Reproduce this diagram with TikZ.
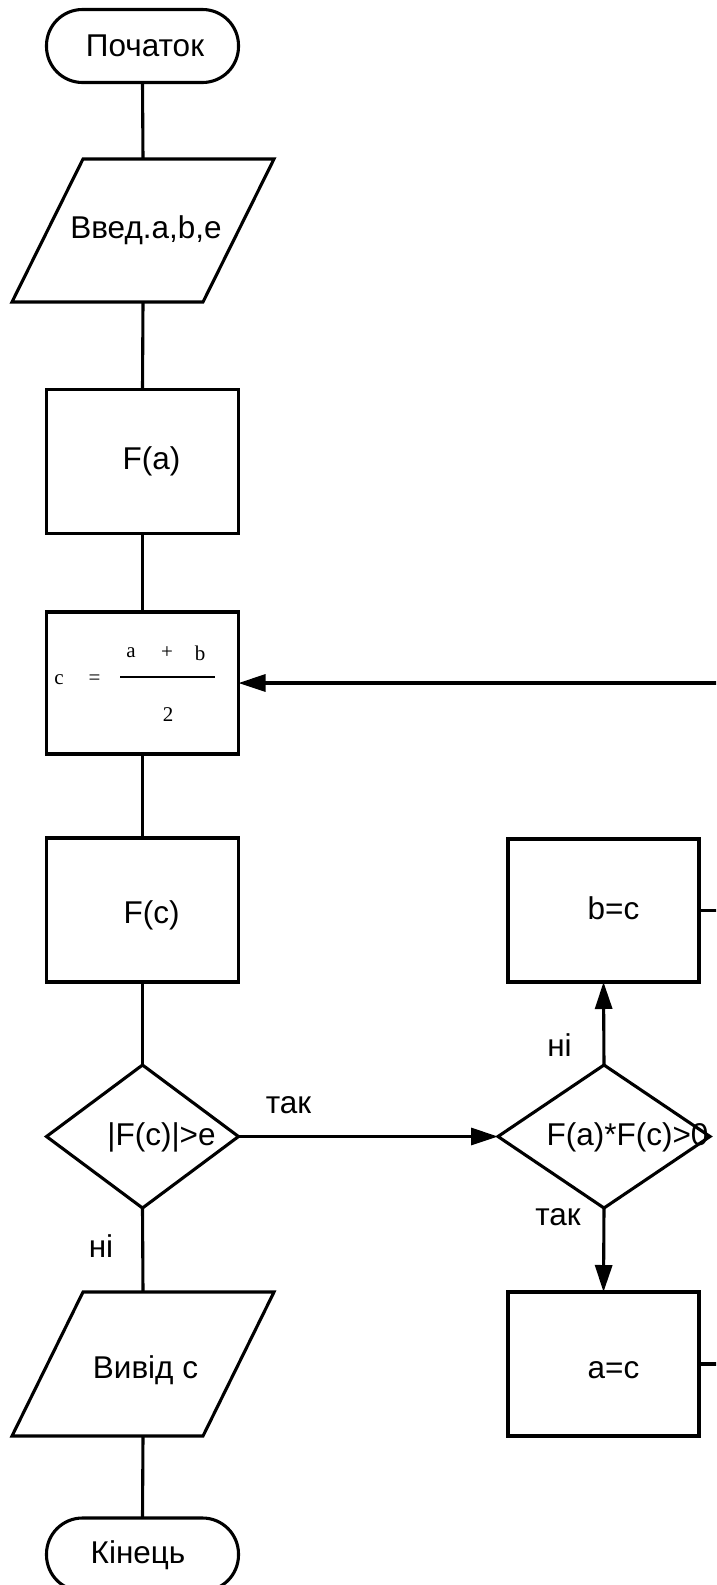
\documentclass[tikz,border=0pt]{standalone}
\usepackage{fontspec}
\setmainfont{Liberation Sans}
\newfontfamily\formulafont{Liberation Serif}
\usetikzlibrary{shapes.geometric,arrows.meta}
\begin{document}
\begin{tikzpicture}[x=1pt,y=-1pt,
  line width=3.1pt,
  every node/.style={inner sep=0pt,outer sep=0pt},
  txt/.style={font=\fontsize{31.5}{36}\selectfont},
  frm/.style={font=\formulafont\fontsize{21}{23}\selectfont},
  terminal/.style={draw,rectangle,rounded corners=36pt,minimum width=192pt,minimum height=73pt},
  procbox/.style={draw,rectangle,minimum width=192pt,minimum height=144pt},
  iobox/.style={rectangle,minimum width=191pt,minimum height=143pt},
  decision/.style={draw,diamond,minimum height=143pt},
  arr/.style={-{Triangle[length=27pt,width=17pt]}},
  slant/.style={line join=miter},
]
\clip (0,0) rectangle (716,1585);

% main column
\node[terminal] (start) at (142.5,46) {};
\node[txt] (tstart) at (145,46) {Початок};
\node[iobox] (in) at (143,230.5) {};
\draw[slant] ([xshift=35.5pt]in.north west) -- ([xshift=35.5pt]in.north east)
  -- ([xshift=-35.5pt]in.south east) -- ([xshift=-35.5pt]in.south west) -- cycle;
\node[txt] (tin) at (146,230) {Введ.a,b,e};
\node[procbox] (fa) at (142.5,461.5) {};
\node[txt] (tfa) at (151.5,461) {F(a)};
\node[procbox,minimum height=142pt] (cb) at (142.5,683) {};
\node[procbox] (fc) at (142.5,910) {};
\node[txt] (tfc) at (151.5,915) {F(c)};
\node[decision,minimum width=192pt] (d1) at (142.5,1136.5) {};
\node[txt] (td1) at (161.5,1137) {|F(c)|>e};
\node[iobox,minimum height=144pt] (out) at (143,1364) {};
\draw[slant] ([xshift=35.5pt]out.north west) -- ([xshift=35.5pt]out.north east)
  -- ([xshift=-35.5pt]out.south east) -- ([xshift=-35.5pt]out.south west) -- cycle;
\node[txt] (tout) at (145.5,1370) {Вивід c};
\node[terminal] (stop) at (142.5,1554.5) {};
\node[txt] (tstop) at (138,1555) {Кінець};

% formula inside the midpoint box
\node[frm] (fc1) at (59,680) {c};
\node[frm] (feq) at (94.5,680) {=};
\node[frm] (fna) at (131,653) {a};
\node[frm] (fnp) at (167,653) {+};
\node[frm] (fnb) at (200,653) {b};
\node[frm] (fd2) at (168,715) {2};
\coordinate (barl) at (120,677);
\coordinate (barr) at (214.5,677);
\draw[line width=1.4pt] (barl) -- (barr);

% right column
\node[decision,minimum width=212pt] (d2) at (604,1136.5) {};
\node[txt] (td2) at (627.5,1137) {F(a)*F(c)>0};
\node[procbox,minimum width=191pt,minimum height=143pt] (bc) at (603.5,910.5) {};
\node[txt] (tbc) at (613.5,908) {b=c};
\node[procbox,minimum width=191pt] (ac) at (603.5,1364) {};
\node[txt] (tac) at (613.5,1370) {a=c};

% branch labels
\node[txt] (l1) at (288.5,1105) {так};
\node[txt] (l2) at (559.5,1045) {ні};
\node[txt] (l3) at (558,1217) {так};
\node[txt] (l4) at (101,1246) {ні};

% connectors
\draw (start.south) -- (in.north);
\draw (in.south) -- (fa.north);
\draw (fa.south) -- (cb.north);
\draw (cb.south) -- (fc.north);
\draw (fc.south) -- (d1.north);
\draw (d1.south) -- (out.north);
\draw (out.south) -- (stop.north);
\draw[arr] (d1.east) -- (d2.west);
\draw[arr] (d2.north) -- (bc.south);
\draw[arr] (d2.south) -- (ac.north);
\coordinate (rt) at (740,683);
\draw[arr] (ac.east) -| (rt) -- (cb.east);
\draw (bc.east) -- (bc.east -| rt);
\end{tikzpicture}
\end{document}
